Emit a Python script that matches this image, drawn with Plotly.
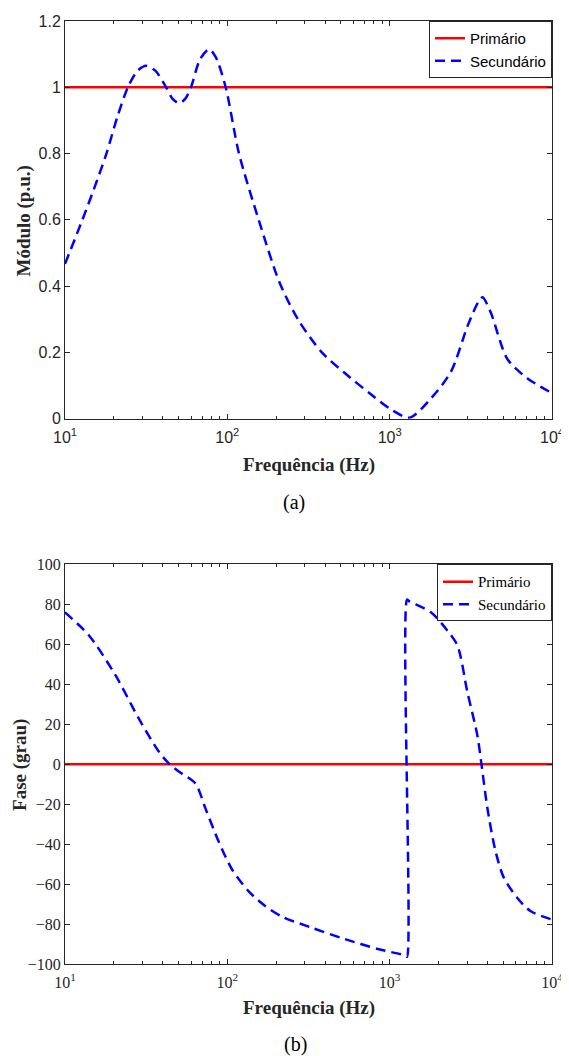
import plotly.graph_objects as go

# ---- data ----
freq_mag = [10, 12.8, 15, 18, 21, 24.4, 28, 31.6, 36, 42, 46, 50.6, 55, 59.7, 68, 77.3, 85, 97.7,
            118, 156, 210, 275, 382, 531, 773, 1024, 1327, 1803, 2388, 3020, 3500, 3733, 4196,
            5308, 7034, 10000]
mag_sec = [0.467, 0.60, 0.69, 0.80, 0.91, 1.00, 1.05, 1.065, 1.05, 1.00, 0.965, 0.952, 0.965, 1.00,
           1.085, 1.115, 1.09, 1.00, 0.80, 0.60, 0.41, 0.296, 0.20, 0.137, 0.072, 0.027, 0.003,
           0.062, 0.142, 0.28, 0.35, 0.366, 0.32, 0.18, 0.122, 0.077]
freq_prim = [10, 10000]
mag_prim = [1, 1]
phase_prim = [0, 0]

freq_ph = [10, 14.1, 20.5, 28.5, 37.9, 43.6, 50.2, 63.5, 73.2, 88.3, 107, 135, 171, 220, 330, 528,
           846, 1250, 1280, 1280, 1322, 1795, 2271, 2616, 3013, 3467, 3672, 4000, 4490, 5055,
           6100, 7360, 10000]
phase_sec = [76, 64.3, 44.4, 22.8, 6.2, 0.4, -3.7, -9.6, -22, -38.6, -52.7, -63.5, -71, -76.5,
             -81.8, -87.5, -92.5, -95.8, -96.4, 82.4, 81.5, 76, 66.8, 59.4, 36, 14.5, 0.4, -22,
             -43.6, -56.9, -66.8, -73.5, -77.8]

xtick_vals = [10, 100, 1000, 10000]
xtick_text = ["10<sup>1</sup>", "10<sup>2</sup>", "10<sup>3</sup>", "10<sup>4</sup>"]
ytick_mag = [0, 0.2, 0.4, 0.6, 0.8, 1.0, 1.2]
ytick_mag_text = ["0", "0.2", "0.4", "0.6", "0.8", "1", "1.2"]
ytick_ph = [-100, -80, -60, -40, -20, 0, 20, 40, 60, 80, 100]
minor_x = [m * 10 ** d for d in (1, 2, 3) for m in range(2, 10)]

RED = "#ff0000"
BLUE = "#0000ff"
AX = "#262626"
SANS = "Liberation Sans, Arial, sans-serif"
SERIF = "Liberation Serif, Times New Roman, serif"

fig = go.Figure()
fig.add_trace(go.Scatter(x=freq_prim, y=mag_prim, mode="lines", name="Primário",
                         line=dict(color=RED, width=2.5), xaxis="x", yaxis="y", legend="legend"))
fig.add_trace(go.Scatter(x=freq_mag, y=mag_sec, mode="lines", name="Secundário",
                         line=dict(color=BLUE, width=2.5, dash="10px,6px", shape="spline",
                                   smoothing=0.8),
                         xaxis="x", yaxis="y", legend="legend"))
fig.add_trace(go.Scatter(x=freq_prim, y=phase_prim, mode="lines", name="Primário",
                         line=dict(color=RED, width=2.5), xaxis="x2", yaxis="y2", legend="legend2"))
fig.add_trace(go.Scatter(x=freq_ph, y=phase_sec, mode="lines", name="Secundário",
                         line=dict(color=BLUE, width=2.5, dash="10px,6px", shape="spline",
                                   smoothing=0.8),
                         xaxis="x2", yaxis="y2", legend="legend2"))

# pixel layout helpers (page body has an 8px margin on the left/top)
OFF = 8
W, H = 569 - OFF, 1056 - OFF
L, T = 65 - OFF, 13 - OFF
R = W - (555 - OFF)
B = H - (964 - OFF)
PH = H - T - B


def py(px):
    return (H - B - (px - OFF)) / PH


def pxr(px):
    return ((px - OFF) - L) / (W - L - R)


def xax(font, anchor):
    return dict(type="log", range=[1, 4], tickvals=xtick_vals, ticktext=xtick_text,
                ticks="inside", ticklen=5, tickcolor=AX, showline=True, linecolor=AX, linewidth=1,
                mirror="allticks", showgrid=False, zeroline=False, anchor=anchor,
                ticklabelstandoff=4, ticklabeloverflow="allow",
                tickfont=dict(family=font, size=16, color=AX),
                minor=dict(tickvals=minor_x, ticks="inside", ticklen=3, tickcolor=AX,
                           showgrid=False))


def yax(font, **kw):
    d = dict(ticks="inside", ticklen=5, tickcolor=AX, showline=True, linecolor=AX, linewidth=1,
             mirror="allticks", showgrid=False, zeroline=False,
             tickfont=dict(family=font, size=16, color=AX))
    d.update(kw)
    return d


fig.update_layout(
    width=W, height=H,
    margin=dict(l=L, r=R, t=T, b=B),
    paper_bgcolor="white", plot_bgcolor="white",
    xaxis=dict(**xax(SANS, "y"), domain=[0, 1]),
    yaxis=yax(SANS, range=[0, 1.2], tickvals=ytick_mag, ticktext=ytick_mag_text,
              domain=[py(414), 1], anchor="x"),
    xaxis2=dict(**xax(SERIF, "y2"), domain=[0, 1]),
    yaxis2=yax(SERIF, range=[-100, 100], tickvals=ytick_ph, domain=[0, py(561)], anchor="x2"),
    legend=dict(x=1, y=1, xanchor="right", yanchor="top", xref="paper", yref="paper",
                bgcolor="white", bordercolor=AX, borderwidth=1,
                font=dict(family=SANS, size=15, color="#000000"), itemwidth=30),
    legend2=dict(x=1, y=py(561), xanchor="right", yanchor="top", xref="paper", yref="paper",
                 bgcolor="white", bordercolor=AX, borderwidth=1,
                 font=dict(family=SERIF, size=15, color="#000000"), itemwidth=30),
    showlegend=True,
)

ann_font_b = dict(family=SERIF, size=19, color=AX)
fig.add_annotation(text="<b>Frequência (Hz)</b>", x=pxr(310), y=py(461), xref="paper", yref="paper",
                   showarrow=False, font=ann_font_b, xanchor="center", yanchor="middle")
fig.add_annotation(text="<b>Frequência (Hz)</b>", x=pxr(310), y=py(1008), xref="paper", yref="paper",
                   showarrow=False, font=ann_font_b, xanchor="center", yanchor="middle")
fig.add_annotation(text="<b>Módulo (p.u.)</b>", x=pxr(24), y=py(215), xref="paper", yref="paper",
                   showarrow=False, font=ann_font_b, textangle=-90, xanchor="center", yanchor="middle")
fig.add_annotation(text="<b>Fase (grau)</b>", x=pxr(19), y=py(763), xref="paper", yref="paper",
                   showarrow=False, font=ann_font_b, textangle=-90, xanchor="center", yanchor="middle")
fig.add_annotation(text="(a)", x=pxr(295), y=py(499), xref="paper", yref="paper",
                   showarrow=False, font=dict(family=SERIF, size=20, color="#000000"),
                   xanchor="center", yanchor="middle")
fig.add_annotation(text="(b)", x=pxr(297), y=py(1045), xref="paper", yref="paper",
                   showarrow=False, font=dict(family=SERIF, size=20, color="#000000"),
                   xanchor="center", yanchor="middle")

fig.write_html("out.html")
